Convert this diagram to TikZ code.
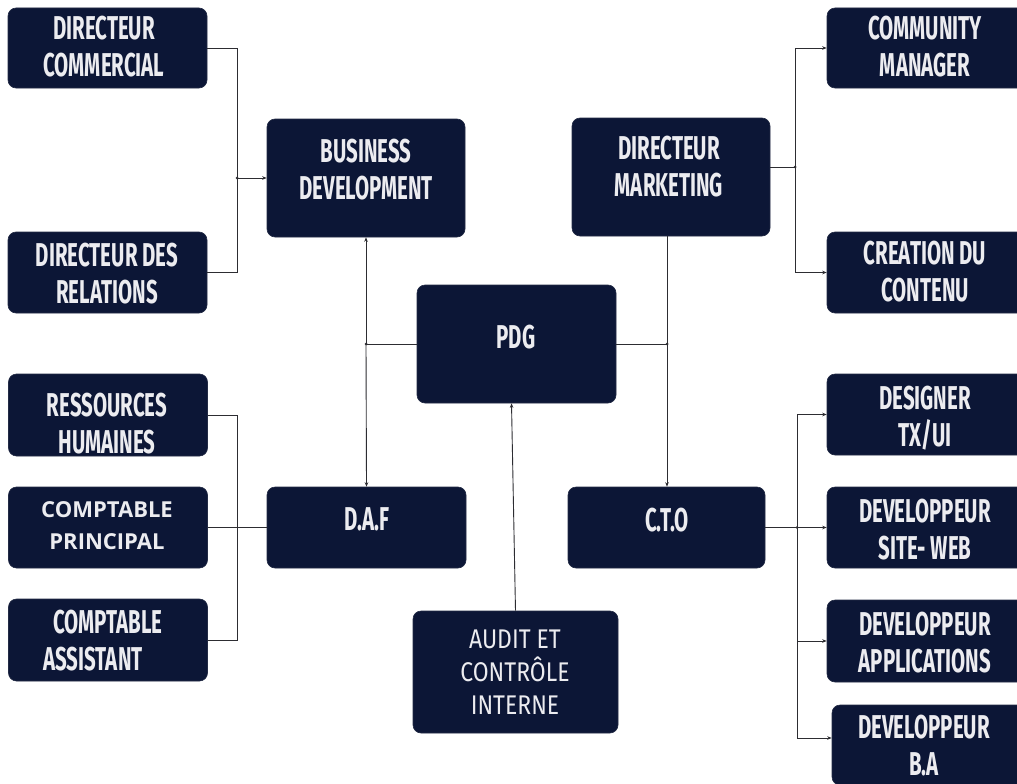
\documentclass[tikz,border=0pt]{standalone}
\usepackage{fontspec}
\usetikzlibrary{arrows.meta,calc}
\newfontfamily\condfont[FakeStretch=0.62]{Fira Sans}
\newfontfamily\wideopen{Open Sans}
\newfontfamily\auditfont[FakeStretch=0.85]{Fira Sans}
\definecolor{navy}{RGB}{12,22,54}
\definecolor{txtc}{RGB}{236,236,240}
\definecolor{linec}{RGB}{45,45,50}
\tikzset{
  box/.style={draw=navy!80!gray, line width=0.6pt, fill=navy, rounded corners=8pt, inner sep=0pt},
  lbl/.style={text=txtc, align=center, inner sep=0pt},
  cond/.style={lbl, font=\condfont\bfseries\fontsize{33}{37}\selectfont},
  wide/.style={lbl, font=\wideopen\bfseries\fontsize{22}{32}\selectfont},
  aud/.style={lbl, font=\auditfont\fontsize{27}{33}\selectfont},
  conn/.style={draw=linec, line width=0.9pt},
  arr/.style={conn, -{Stealth[length=4.5pt,width=3.5pt]}},
  jdot/.style={circle, fill=linec, inner sep=0pt, minimum size=3pt}
}
\begin{document}
\begin{tikzpicture}[x=1pt,y=-1pt]
\useasboundingbox[fill=white] (0,0) rectangle (1017,784);
% boxes
\node[box, minimum width=199, minimum height=80] (dc) at (107.5,48) {};
\node[box, minimum width=199, minimum height=81] (dr) at (107.5,272.5) {};
\node[box, minimum width=198, minimum height=118] (bd) at (366,178) {};
\node[box, minimum width=199, minimum height=118] (pdg) at (516.5,344) {};
\node[box, minimum width=198, minimum height=118] (dm) at (671,177) {};
\node[box, minimum width=198, minimum height=80] (cm) at (926,48) {};
\node[box, minimum width=198, minimum height=81] (cc) at (926,272.5) {};
\node[box, minimum width=199, minimum height=82] (rh) at (108,415) {};
\node[box, minimum width=199, minimum height=81] (cp) at (108,527.5) {};
\node[box, minimum width=199, minimum height=82] (ca) at (108,640) {};
\node[box, minimum width=199, minimum height=81] (daf) at (366.5,527.5) {};
\node[box, minimum width=197, minimum height=81] (cto) at (666.5,527.5) {};
\node[box, minimum width=205, minimum height=122] (audit) at (515.5,672) {};
\node[box, minimum width=198, minimum height=81] (ds) at (926,414.5) {};
\node[box, minimum width=198, minimum height=81] (dw) at (926,527.5) {};
\node[box, minimum width=198, minimum height=82] (da) at (926,641) {};
\node[box, minimum width=198, minimum height=80] (dba) at (931,745) {};
% texts
\node[cond] (dc-t) at (104,47) {DIRECTEUR\\COMMERCIAL};
\node[cond] (dr-t) at (107,274) {DIRECTEUR DES\\RELATIONS};
\node[cond] (bd-t) at (366,170) {BUSINESS\\DEVELOPMENT};
\node[cond] (pdg-t) at (516,337) {PDG};
\node[cond] (dm-t) at (669,167) {DIRECTEUR\\MARKETING};
\node[cond] (cm-t) at (925,47) {COMMUNITY\\MANAGER};
\node[cond] (cc-t) at (925,272) {CREATION DU\\CONTENU};
\node[cond] (rh-t) at (107,424) {RESSOURCES\\HUMAINES};
\node[wide] (cp-t) at (107,526) {COMPTABLE\\PRINCIPAL};
\node[cond] (ca-t) at (102,641) {\hspace*{12pt}COMPTABLE\\ASSISTANT\hspace*{18pt}};
\node[cond] (daf-t) at (367,519) {D.A.F};
\node[cond] (cto-t) at (667,520) {C.T.O};
\node[aud] (audit-t) at (515,672) {AUDIT ET\\CONTRÔLE\\INTERNE};
\node[cond] (ds-t) at (925,418) {DESIGNER\\TX/UI};
\node[cond] (dw-t) at (925,530) {DEVELOPPEUR\\SITE- WEB};
\node[cond] (da-t) at (925,643) {DEVELOPPEUR\\APPLICATIONS};
\node[cond] (dba-t) at (924,746) {DEVELOPPEUR\\B.A};
% junction coordinates
\coordinate (j1) at (237,178);
\coordinate (j2) at (366,344);
\coordinate (j3) at (667,344);
\coordinate (j4) at (795,167);
\coordinate (j5) at (237,527.5);
\coordinate (j6) at (797,527.5);
\coordinate (k4) at (797,738);
% connectors top-left
\draw[conn] (dc.east) -| (j1);
\draw[conn] (dr.east) -| (j1);
\draw[arr] (j1) -- (bd.west);
% center
\draw[conn] (pdg.west) -- (j2);
\draw[arr] (j2) -- (bd.south);
\draw[arr] (j2) -- (daf.north);
\draw[conn] (pdg.east) -- (j3);
\draw[conn] (j3) -- (j3 |- dm.south);
\draw[arr] (j3) -- (j3 |- cto.north);
\draw[arr] (audit.north) -- ([xshift=-5pt]pdg.south);
% top-right
\draw[conn] (dm.east |- j4) -- (j4);
\draw[arr] (j4) |- (cm.west);
\draw[arr] (j4) |- (cc.west);
% bottom-left
\draw[conn] (rh.east) -| (j5);
\draw[conn] (ca.east) -| (j5);
\draw[conn] (cp.east) -- (daf.west);
% bottom-right
\draw[conn] (cto.east) -- (j6);
\draw[arr] (j6) -- (dw.west);
\draw[arr] (j6) |- (ds.west);
\draw[arr] (j6) |- (da.west);
\draw[conn] (j6) -- (k4);
\draw[arr] (k4) -- (k4 -| dba.west);
% junction dots
\foreach \j in {j1,j2,j3,j4,j6} \node[jdot] at (\j) {};
\end{tikzpicture}
\end{document}
